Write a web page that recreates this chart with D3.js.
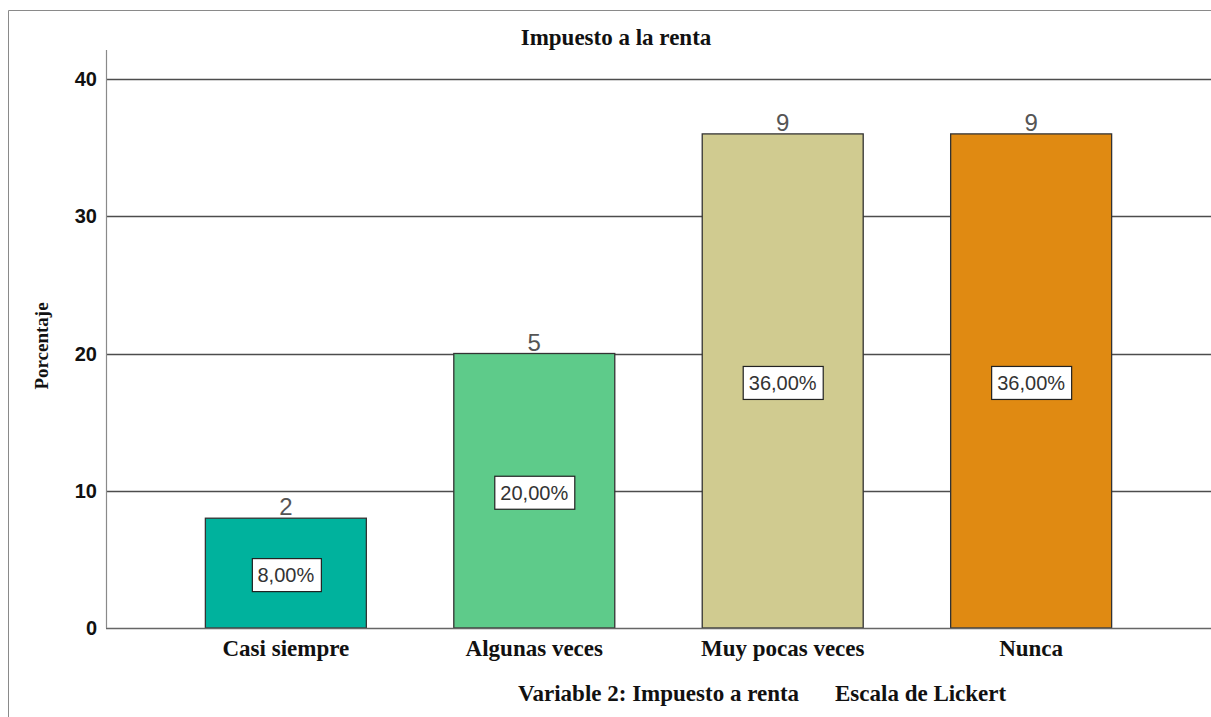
<!DOCTYPE html>
<html><head><meta charset="utf-8">
<script src="https://cdn.jsdelivr.net/npm/d3@7"></script>
<style>body{margin:0;background:#fff}svg{display:block}</style>
</head><body><svg id="c" width="1211" height="717"></svg>
<script>
const categories = ["Casi siempre", "Algunas veces", "Muy pocas veces", "Nunca"];
const percents = [8, 20, 36, 36];
const counts = [2, 5, 9, 9];
const colors = ["#00b29d", "#5ecb8a", "#d0cb90", "#e08a12"];
const yTicks = [0, 10, 20, 30, 40];
const title = "Impuesto a la renta";
const xTitleParts = ["Variable 2: Impuesto a renta", "Escala de Lickert"];
const yTitle = "Porcentaje";

const svg = d3.select("#c");
const serif = "'Liberation Serif','DejaVu Serif',serif";
const sans = "'Liberation Sans',Arial,sans-serif";

// outer frame
svg.append("path").attr("d","M8.5,717 V10.5 H1211").attr("fill","none").attr("stroke","#8a8a8a").attr("stroke-width",1);

const y = d3.scaleLinear().domain([0,40]).range([628,79]);
const x = d3.scaleBand().domain(categories).range([106,1211]).paddingInner(0.352).paddingOuter(0.4);

// gridlines
svg.append("g").selectAll("line").data(yTicks.filter(d=>d>0)).join("line")
  .attr("x1",106).attr("x2",1211).attr("y1",d=>Math.round(y(d))+0.5).attr("y2",d=>Math.round(y(d))+0.5)
  .attr("stroke","#4d4d4d").attr("stroke-width",1.3);

// bars
svg.append("g").selectAll("rect").data(percents).join("rect")
  .attr("x",(d,i)=>x(categories[i])).attr("width",x.bandwidth())
  .attr("y",d=>y(d)).attr("height",d=>y(0)-y(d))
  .attr("fill",(d,i)=>colors[i]).attr("stroke","#333").attr("stroke-width",1.3);

// baseline & y axis line
svg.append("line").attr("x1",106).attr("x2",1211).attr("y1",628.5).attr("y2",628.5).attr("stroke","#666").attr("stroke-width",1.5);
svg.append("line").attr("x1",106.5).attr("x2",106.5).attr("y1",50).attr("y2",628).attr("stroke","#8a8a8a").attr("stroke-width",1.2);

// y tick labels
svg.append("g").selectAll("text").data(yTicks).join("text")
  .attr("x",97).attr("y",d=>y(d)).attr("dy","0.36em").attr("text-anchor","end")
  .attr("font-family",sans).attr("font-weight","bold").attr("font-size",20).attr("fill","#111")
  .text(d=>d);

// category labels
svg.append("g").selectAll("text").data(categories).join("text")
  .attr("x",d=>x(d)+x.bandwidth()/2).attr("y",656).attr("text-anchor","middle")
  .attr("font-family",serif).attr("font-weight","bold").attr("font-size",23).attr("fill","#111")
  .text(d=>d);

// counts above bars
svg.append("g").selectAll("text").data(counts).join("text")
  .attr("x",(d,i)=>x(categories[i])+x.bandwidth()/2).attr("y",(d,i)=>y(percents[i])-3)
  .attr("text-anchor","middle").attr("font-family",sans).attr("font-size",24).attr("fill","#555")
  .text(d=>d);

// percent boxes
const fmt = d=>d.toFixed(2).replace(".",",")+"%";
const lab = svg.append("g").selectAll("g").data(percents).join("g")
  .attr("transform",(d,i)=>`translate(${x(categories[i])+x.bandwidth()/2},${(y(d)+y(0))/2+2})`);
lab.each(function(d){
  const g = d3.select(this);
  const t = g.append("text").attr("text-anchor","middle").attr("dy","0.36em")
    .attr("font-family",sans).attr("font-size",20).attr("fill","#333").text(fmt(d));
  const bb = t.node().getBBox();
  g.insert("rect","text").attr("x",Math.round(bb.x-6)+0.5).attr("y",-16.5).attr("width",Math.round(bb.width+12)).attr("height",33)
    .attr("fill","#fff").attr("stroke","#222").attr("stroke-width",1.2);
});

// title
svg.append("text").attr("x",616).attr("y",45).attr("text-anchor","middle")
  .attr("font-family",serif).attr("font-weight","bold").attr("font-size",23).attr("fill","#111").text(title);
// x title (two parts)
svg.append("text").attr("x",518).attr("y",701).attr("text-anchor","start")
  .attr("font-family",serif).attr("font-weight","bold").attr("font-size",23).attr("fill","#111").text(xTitleParts[0]);
svg.append("text").attr("x",835).attr("y",701).attr("text-anchor","start")
  .attr("font-family",serif).attr("font-weight","bold").attr("font-size",23).attr("fill","#111").text(xTitleParts[1]);
// y title
svg.append("text").attr("transform","translate(48,346) rotate(-90)").attr("text-anchor","middle")
  .attr("font-family",serif).attr("font-weight","bold").attr("font-size",19).attr("fill","#111").text(yTitle);
</script></body></html>
